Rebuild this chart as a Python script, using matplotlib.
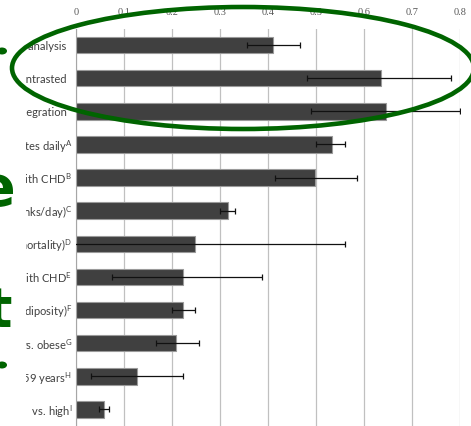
import numpy as np
import matplotlib
matplotlib.use("Agg")
import matplotlib.pyplot as plt
from matplotlib.patches import Ellipse, Rectangle

plt.rcParams['mathtext.default'] = 'regular'

# categories, top to bottom
labels = ["Meta-analysis  ", "Contrasted  ", "Integration  ",
          "30 minutes daily$^{A}$", "Men with CHD$^{B}$", "(2 drinks/day)$^{C}$",
          "(all-cause mortality)$^{D}$", "Women with CHD$^{E}$", "(adiposity)$^{F}$",
          "Normal vs. obese$^{G}$", "Age 40 -  59 years$^{H}$", "Low     vs. high$^{I}$"]
values = [0.410, 0.634, 0.645, 0.533, 0.498, 0.315, 0.248, 0.222, 0.222, 0.207, 0.127, 0.058]
lower = [0.356, 0.481, 0.488, 0.500, 0.413, 0.299, -0.10, 0.074, 0.199, 0.166, 0.030, 0.048]
upper = [0.465, 0.781, 0.800, 0.560, 0.584, 0.330, 0.560, 0.386, 0.247, 0.256, 0.223, 0.068]
xticks = [0, 0.1, 0.2, 0.3, 0.4, 0.5, 0.6, 0.7, 0.8]

values = np.array(values)
err = np.array([values - np.array(lower), np.array(upper) - values])
y = np.arange(len(labels))

fig = plt.figure(figsize=(4.71, 4.26), dpi=100)
ax = fig.add_axes([76.3 / 471, 0, 384 / 471, 1 - 28.5 / 426])

ax.barh(y, values, height=0.5, color='#404040', edgecolor='#9a9a9a', linewidth=0.8, zorder=2)
ax.errorbar(values, y, xerr=err, fmt='none', ecolor='#111111', elinewidth=0.9,
            capsize=2.5, capthick=0.9, zorder=3)

ax.set_xlim(0, 0.8)
ax.set_ylim(len(labels) - 0.5, -0.5)
ax.set_yticks(y)
ax.set_yticklabels(labels, fontsize=8.0, color='#404040', family='Lato')
ax.set_xticks(xticks)
ax.set_xticklabels([f"{t:g}" for t in xticks], fontsize=7.5, color='#595959',
                   family='Liberation Serif')
ax.xaxis.tick_top()
ax.tick_params(axis='x', length=0, pad=8)
ax.tick_params(axis='y', length=0, pad=3)
ax.grid(axis='x', color='#c0c0c0', linewidth=0.9, zorder=0)
ax.set_axisbelow(True)
for s in ['top', 'right', 'bottom']:
    ax.spines[s].set_visible(False)
ax.spines['left'].set_color('#a6a6a6')

# white cover on the left edge, with the cut-off green letters over it
fig.add_artist(Rectangle((0, 0), 26 / 471, 1, transform=fig.transFigure,
                         facecolor='white', edgecolor='none', zorder=5))
W, H = 471, 426
green = '#006400'
for ch, xr, yb in [("e", 15, 205), ("t", 12, 327)]:
    fig.text(xr / W, 1 - yb / H, ch, ha='right', va='baseline', fontsize=40,
             fontweight='bold', color=green, family='DejaVu Sans', zorder=6)
# small tips of two more letters
for cx, cy in [(2, 51), (2, 365)]:
    fig.add_artist(Ellipse((cx / W, 1 - cy / H), 10 / W, 7 / H, transform=fig.transFigure,
                           facecolor=green, edgecolor='none', zorder=6))

# hand drawn ellipse around the top three bars
fig.add_artist(Ellipse((243 / W, 1 - 68 / H), 462 / W, 122 / H, transform=fig.transFigure,
                       fill=False, edgecolor=green, linewidth=3.3, zorder=7))

fig.savefig("out.png", dpi=100)
